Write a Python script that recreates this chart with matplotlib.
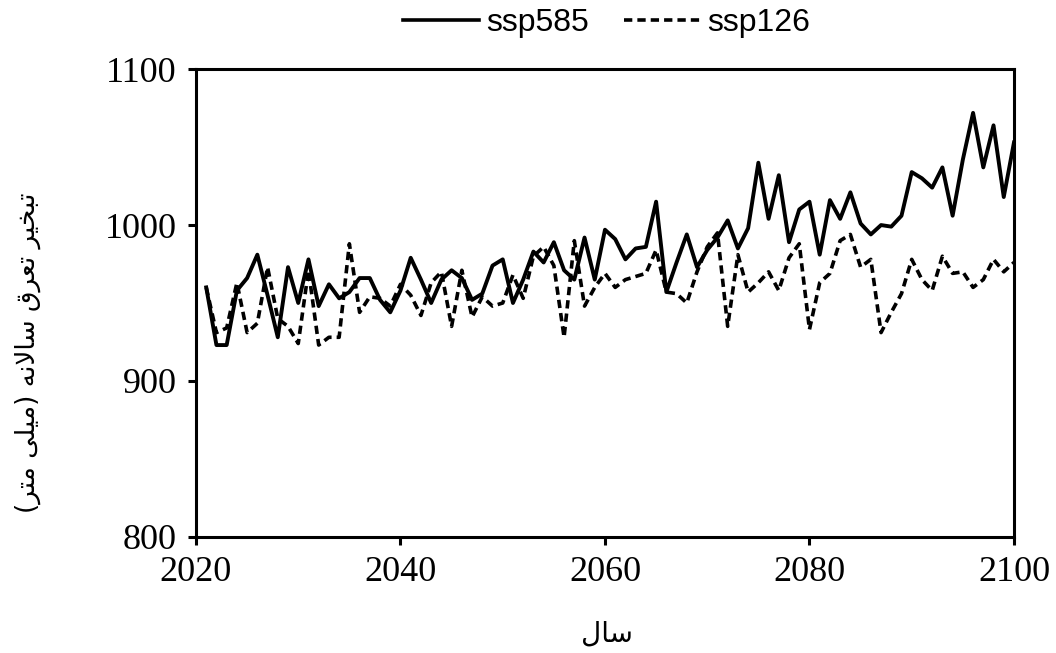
import matplotlib
matplotlib.use("Agg")
import matplotlib.pyplot as plt

years = list(range(2021, 2101))

ssp585 = [960, 923, 923, 958, 966, 981, 955, 928, 973, 950,
          978, 948, 962, 953, 957, 966, 966, 952, 944, 958,
          979, 965, 950, 965, 971, 966, 952, 956, 974, 978,
          950, 965, 983, 976, 989, 971, 965, 992, 965, 997,
          991, 978, 985, 986, 1015, 957, 976, 994, 973, 984,
          992, 1003, 985, 998, 1040, 1004, 1032, 989, 1010, 1015,
          981, 1016, 1004, 1021, 1001, 994, 1000, 999, 1006, 1034,
          1030, 1024, 1037, 1006, 1042, 1072, 1037, 1064, 1018, 1053]

ssp126 = [960, 931, 934, 963, 931, 937, 973, 940, 935, 924,
          971, 923, 928, 928, 988, 944, 954, 953, 948, 962,
          955, 942, 963, 970, 935, 971, 941, 954, 948, 950,
          968, 953, 980, 986, 974, 928, 990, 948, 960, 969,
          960, 965, 967, 969, 984, 957, 956, 950, 970, 986,
          995, 935, 981, 957, 963, 970, 958, 979, 988, 933,
          963, 969, 990, 994, 973, 978, 931, 944, 956, 978,
          965, 958, 980, 969, 970, 960, 965, 978, 970, 976]

xticks = [2020, 2040, 2060, 2080, 2100]
yticks = [800, 900, 1000, 1100]

# Persian labels, pre-shaped (presentation forms) in visual order
ylabel_txt = ("(\uFEAE\uFE98\uFEE3 \uFEF0\uFEE0\uFEF4\uFEE3) "
              "\uFEEA\uFEE7\uFEFB\uFE8E\uFEB3 "
              "\uFED5\uFEAE\uFECC\uFE97 "
              "\uFEAE\uFEF4\uFEA8\uFE92\uFE97")
xlabel_txt = "\uFEDD\uFE8E\uFEB3"

fig = plt.figure(figsize=(10.56, 6.53), dpi=100)
ax = fig.add_axes([0.1856, 0.178, 0.7746, 0.716])

ax.plot(years, ssp585, color="black", lw=2.8, ls="-", label="ssp585")
ax.plot(years, ssp126, color="black", lw=2.6, ls=(0, (2.3, 1.4)), label="ssp126")

ax.set_xlim(2020, 2100)
ax.set_ylim(800, 1100)
ax.set_xticks(xticks)
ax.set_yticks(yticks)
for sp in ax.spines.values():
    sp.set_linewidth(2.2)
ax.tick_params(direction="out", length=6, width=2.2, pad=8)
for lab in ax.get_xticklabels() + ax.get_yticklabels():
    lab.set_fontfamily("Liberation Serif")
    lab.set_fontsize(26)

fig.text(0.575, 0.03, xlabel_txt, ha="center", va="center",
         fontsize=20, family=["DejaVu Sans"])
fig.text(0.026, 0.46, ylabel_txt, ha="center", va="center",
         rotation=90, fontsize=19, family=["DejaVu Sans"])

leg = fig.legend(loc="center", bbox_to_anchor=(0.574, 0.965), ncol=2,
                 frameon=False, handlelength=2.4, handletextpad=0.2,
                 columnspacing=1.1,
                 prop={"family": ["Liberation Sans Narrow", "Liberation Sans"],
                       "size": 23})
for h in leg.get_lines():
    h.set_linewidth(2.6)

fig.savefig("out.png", dpi=100)
